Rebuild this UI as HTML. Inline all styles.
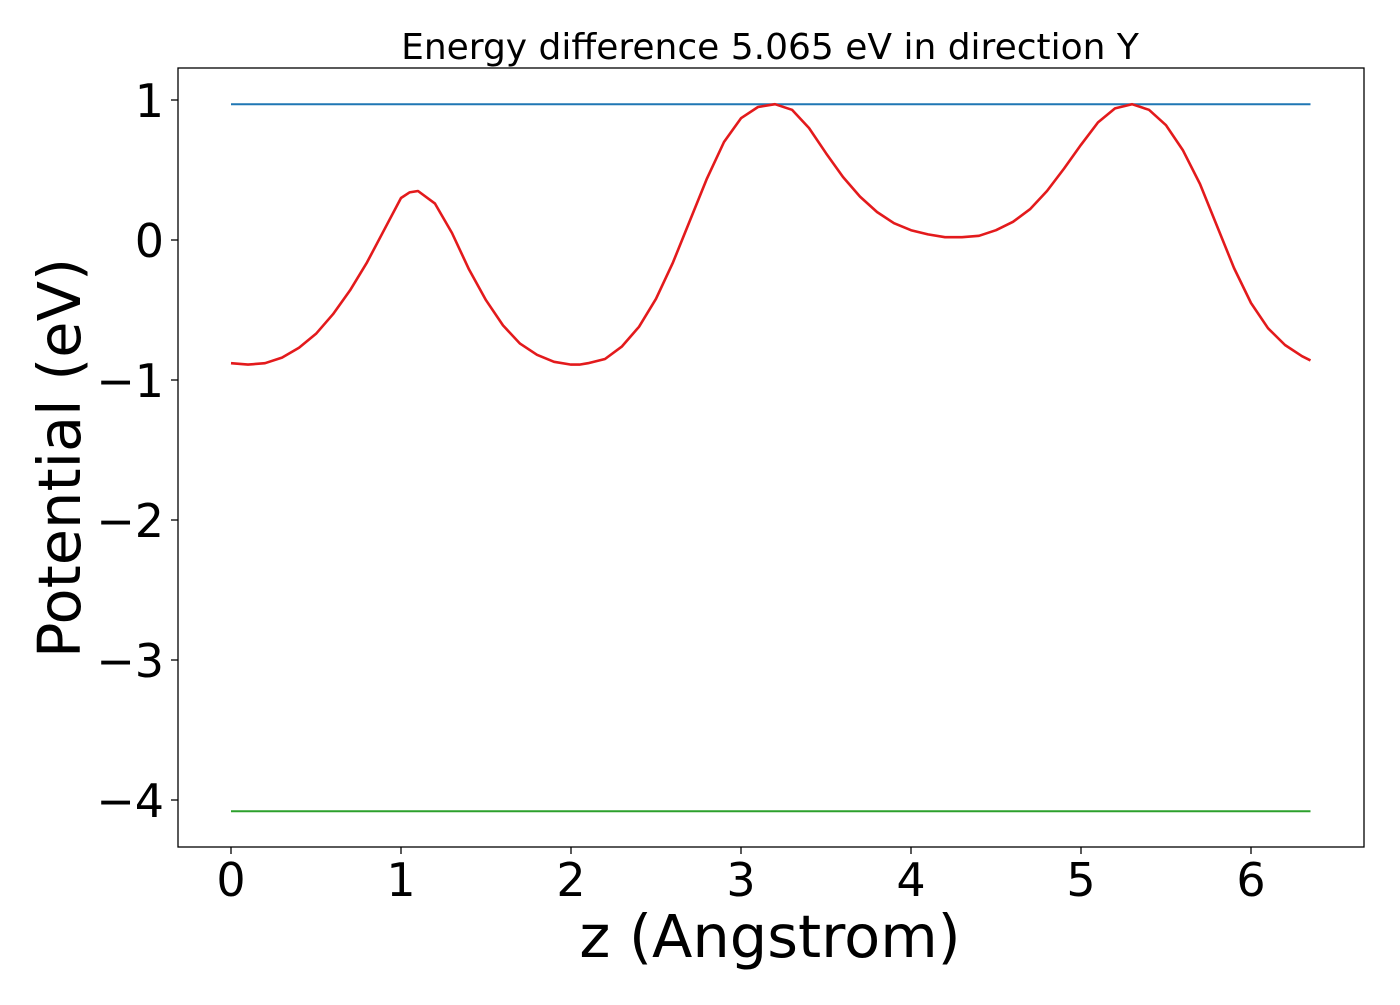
<!DOCTYPE html>
<html><head><meta charset="utf-8"><style>
body{margin:0;background:#fff;}
svg text{font-family:"DejaVu Sans","Liberation Sans",sans-serif;fill:#000;}
</style></head><body>
<svg id="chart" width="1400" height="1000">
<rect x="0" y="0" width="1400" height="1000" fill="#fff"/>
<text x="770" y="59" font-size="36" text-anchor="middle">Energy difference 5.065 eV in direction Y</text>
<text x="770" y="957" font-size="59" text-anchor="middle">z (Angstrom)</text>
<text transform="translate(80,458) rotate(-90)" font-size="59" text-anchor="middle">Potential (eV)</text>
<g id="ticks"></g>
<g id="marks"></g>
<rect x="178" y="68" width="1186" height="779" fill="none" stroke="#000" stroke-width="1.3"/>
</svg>
<script>
const xTicks=[0,1,2,3,4,5,6];
const yTicks=[1,0,-1,-2,-3,-4];
const zVals=[0,0.1,0.2,0.3,0.4,0.5,0.6,0.7,0.8,0.9,1.0,1.05,1.1,1.2,1.3,1.4,1.5,1.6,1.7,1.8,1.9,2.0,2.05,2.1,2.2,2.3,2.4,2.5,2.6,2.7,2.8,2.9,3.0,3.1,3.2,3.3,3.4,3.5,3.6,3.7,3.8,3.9,4.0,4.1,4.2,4.3,4.4,4.5,4.6,4.7,4.8,4.9,5.0,5.1,5.2,5.3,5.4,5.5,5.6,5.7,5.8,5.9,6.0,6.1,6.2,6.3,6.35];
const potVals=[-0.88,-0.89,-0.88,-0.84,-0.77,-0.67,-0.53,-0.36,-0.16,0.07,0.30,0.34,0.35,0.26,0.05,-0.21,-0.43,-0.61,-0.74,-0.82,-0.87,-0.89,-0.89,-0.88,-0.85,-0.76,-0.62,-0.42,-0.16,0.14,0.44,0.70,0.87,0.95,0.97,0.93,0.80,0.62,0.45,0.31,0.20,0.12,0.07,0.04,0.02,0.02,0.03,0.07,0.13,0.22,0.35,0.51,0.68,0.84,0.94,0.97,0.93,0.82,0.64,0.40,0.10,-0.20,-0.45,-0.63,-0.75,-0.83,-0.86];
const maxLevel=[0.97];
const minLevel=[-4.08];
const NS="http://www.w3.org/2000/svg";
const xs=v=>231+v*170;
const ys=v=>240-v*140;
const tg=document.getElementById('ticks'), mg=document.getElementById('marks');
function mk(t,a,p){const e=document.createElementNS(NS,t);for(const k in a)e.setAttribute(k,a[k]);p.appendChild(e);return e;}
xTicks.forEach(t=>{
  const l=mk('line',{x1:xs(t),x2:xs(t),y1:847,y2:854,stroke:'#000','stroke-width':1.3},tg);
  
  
  const tx=mk('text',{x:xs(t),y:896,'font-size':46,'text-anchor':'middle'},tg);tx.textContent=String(t);
  
  
});
yTicks.forEach(t=>{
  const l=mk('line',{x1:171,x2:178,y1:ys(t),y2:ys(t),stroke:'#000','stroke-width':1.3},tg);
  
  
  const tx=mk('text',{x:164,y:ys(t)+17,'font-size':46,'text-anchor':'end'},tg);tx.textContent=(t<0?'\u2212'+(-t):String(t));
  
  
});
const x0=zVals[0], x1=zVals[zVals.length-1];
const b=mk('line',{x1:xs(x0),x2:xs(x1),y1:ys(maxLevel[0]),y2:ys(maxLevel[0]),stroke:'#1f77b4','stroke-width':2},mg);


const g=mk('line',{x1:xs(x0),x2:xs(x1),y1:ys(minLevel[0]),y2:ys(minLevel[0]),stroke:'#2ca02c','stroke-width':2},mg);


const pts=zVals.map((z,i)=>xs(z)+','+ys(potVals[i])).join(' ');
const p=mk('polyline',{points:pts,fill:'none',stroke:'#e31a1c','stroke-width':2.6,'stroke-linejoin':'round'},mg);


</script>
</body></html>
